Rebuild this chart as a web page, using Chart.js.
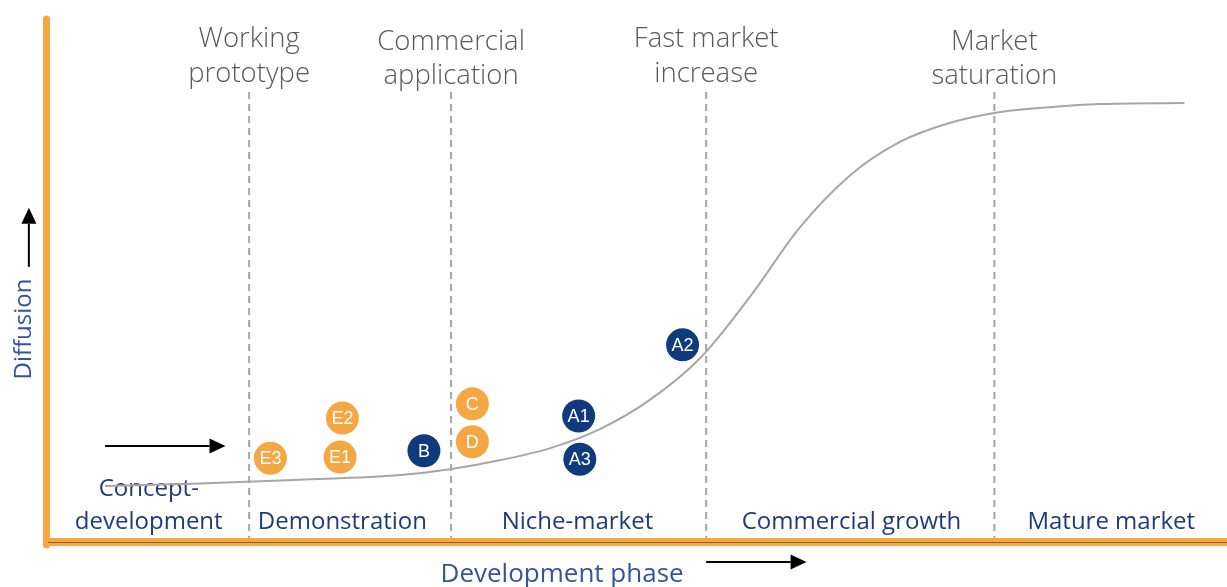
<!DOCTYPE html>
<html>
<head>
<meta charset="utf-8">
<script src="https://cdn.jsdelivr.net/npm/chart.js@4.4.0/dist/chart.umd.min.js"></script>
<style>
  html, body { margin: 0; padding: 0; background: #fff; }
  #wrap { width: 1227px; height: 587px; }
</style>
</head>
<body>
<div id="wrap"><canvas id="chart" width="1227" height="587"></canvas></div>
<script>
// S-curve: x = development phase (0-100), y = diffusion (0-100)
const curveX = [5.0, 13.0, 21.5, 30.0, 34.2, 38.4, 42.7, 46.9, 51.1, 55.4, 59.6, 63.8, 68.1, 72.3, 76.5, 80.8, 85.0, 89.2, 96.4];
const curveY = [10.8, 11.3, 12.0, 12.9, 14.0, 15.7, 18.0, 21.6, 27.1, 35.1, 46.7, 59.8, 69.8, 76.1, 79.7, 81.8, 82.7, 83.3, 83.5];

// milestones (dashed boundaries)
const milestoneX = [17.2, 34.3, 55.9, 80.3];
const milestoneTop = 86.3;
const milestoneNames = [['Working', 'prototype'], ['Commercial', 'application'], ['Fast market', 'increase'], ['Market', 'saturation']];

// phases
const phaseNames = [['Concept-', 'development'], ['Demonstration'], ['Niche-market'], ['Commercial growth'], ['Mature market']];
const phaseCenterX = [8.7, 25.1, 45.0, 68.2, 90.2];

// technologies
const orangeIds = ['E3', 'E1', 'E2', 'C', 'D'];
const orangeX = [19.0, 24.9, 25.1, 36.1, 36.1];
const orangeY = [16.1, 16.3, 23.7, 26.4, 19.2];

const navyIds = ['B', 'A1', 'A3', 'A2'];
const navyX = [32.0, 45.1, 45.2, 53.9];
const navyY = [17.5, 24.1, 15.9, 37.6];

const ORANGE = '#F4A742';
const NAVY = '#0F3B7D';
const PHASE_BLUE = '#1F3C78';
const GREY = '#A6A6A6';

// arrows in axis units: [x1, y1, x2, y2]
const arrows = [
    [5.0, 18.4, 15.2, 18.4],
    [-1.45, 52.4, -1.45, 63.6],
    [55.9, -3.6, 64.4, -3.6]
];

const toPts = (xs, ys) => xs.map((x, i) => ({ x: x, y: ys[i] }));

const datasets = [
    {
        label: 'orange', type: 'scatter', data: toPts(orangeX, orangeY),
        backgroundColor: ORANGE, borderWidth: 0, pointRadius: 16.5, pointHoverRadius: 16.5
    },
    {
        label: 'navy', type: 'scatter', data: toPts(navyX, navyY),
        backgroundColor: NAVY, borderWidth: 0, pointRadius: 16.5, pointHoverRadius: 16.5
    },
    {
        label: 'curve', type: 'line', data: toPts(curveX, curveY),
        borderColor: GREY, borderWidth: 2, pointRadius: 0, fill: false,
        cubicInterpolationMode: 'monotone'
    }
];
milestoneX.forEach((x, i) => {
    datasets.push({
        label: 'm' + i, type: 'line', data: [{ x: x, y: 0 }, { x: x, y: milestoneTop }],
        borderColor: GREY, borderWidth: 2, borderDash: [7, 5], pointRadius: 0, fill: false
    });
});

function drawArrow(ctx, x1, y1, x2, y2) {
    const ang = Math.atan2(y2 - y1, x2 - x1);
    const len = 16, hw = 7.5;
    ctx.save();
    ctx.strokeStyle = '#000';
    ctx.fillStyle = '#000';
    ctx.lineWidth = 2;
    ctx.beginPath();
    ctx.moveTo(x1, y1);
    ctx.lineTo(x2 - Math.cos(ang) * len, y2 - Math.sin(ang) * len);
    ctx.stroke();
    ctx.translate(x2, y2);
    ctx.rotate(ang);
    ctx.beginPath();
    ctx.moveTo(0, 0);
    ctx.lineTo(-len, -hw);
    ctx.lineTo(-len, hw);
    ctx.closePath();
    ctx.fill();
    ctx.restore();
}

const overlay = {
    id: 'overlay',
    beforeDatasetsDraw(chart) {
        const ctx = chart.ctx;
        const xs = chart.scales.x, ys = chart.scales.y;
        ctx.save();
        ctx.textAlign = 'center';
        ctx.textBaseline = 'alphabetic';

        // milestone titles
        ctx.fillStyle = '#595959';
        ctx.font = '300 27.5px "Open Sans"';
        milestoneNames.forEach((lines, i) => {
            const px = xs.getPixelForValue(milestoneX[i]);
            const top = (i % 2 === 0) ? 94.1 : 93.6;
            lines.forEach((t, j) => {
                ctx.fillText(t, px, ys.getPixelForValue(top) + j * 34.5);
            });
        });

        // phase names
        ctx.fillStyle = PHASE_BLUE;
        ctx.font = '24px "Open Sans"';
        phaseNames.forEach((lines, i) => {
            const px = xs.getPixelForValue(phaseCenterX[i]);
            const base = ys.getPixelForValue(2.6);
            lines.forEach((t, j) => {
                ctx.fillText(t, px, base - (lines.length - 1 - j) * 33.5);
            });
        });

        // axis titles
        ctx.fillStyle = '#34559A';
        ctx.font = '26px "Open Sans"';
        ctx.fillText('Development phase', xs.getPixelForValue(43.7), ys.getPixelForValue(-7.4));

        ctx.save();
        ctx.translate(xs.getPixelForValue(-1.25), ys.getPixelForValue(40.6));
        ctx.rotate(-Math.PI / 2);
        ctx.font = '24px "Open Sans"';
        ctx.fillText('Diffusion', 0, 0);
        ctx.restore();
        ctx.restore();
    },
    afterDatasetsDraw(chart) {
        const ctx = chart.ctx;
        const xs = chart.scales.x, ys = chart.scales.y;
        const area = chart.chartArea;

        // labels inside circles
        ctx.save();
        ctx.fillStyle = '#fff';
        ctx.font = '18px "Liberation Sans", Arial, sans-serif';
        ctx.textAlign = 'center';
        ctx.textBaseline = 'middle';
        [[0, orangeIds], [1, navyIds]].forEach(([di, ids]) => {
            chart.getDatasetMeta(di).data.forEach((el, i) => {
                ctx.fillText(ids[i], el.x, el.y + 1);
            });
        });
        ctx.restore();

        // orange axes
        ctx.save();
        ctx.strokeStyle = ORANGE;
        ctx.lineCap = 'round';
        ctx.lineWidth = 7;
        ctx.beginPath();
        ctx.moveTo(area.left + 0.5, area.top + 3);
        ctx.lineTo(area.left + 0.5, area.bottom + 2);
        ctx.stroke();
        ctx.lineCap = 'butt';
        ctx.lineWidth = 8;
        ctx.beginPath();
        ctx.moveTo(area.left - 3, area.bottom - 1);
        ctx.lineTo(chart.width, area.bottom - 1);
        ctx.stroke();
        ctx.strokeStyle = 'rgba(110, 80, 30, 0.75)';
        ctx.lineWidth = 1;
        ctx.beginPath();
        ctx.moveTo(area.left + 2, area.bottom - 0.5);
        ctx.lineTo(chart.width, area.bottom - 0.5);
        ctx.stroke();
        ctx.restore();

        // arrows
        arrows.forEach(a => {
            drawArrow(ctx, xs.getPixelForValue(a[0]), ys.getPixelForValue(a[1]),
                xs.getPixelForValue(a[2]), ys.getPixelForValue(a[3]));
        });
    }
};

new Chart(document.getElementById('chart'), {
    type: 'scatter',
    data: { datasets: datasets },
    options: {
        responsive: false,
        animation: false,
        events: [],
        layout: { autoPadding: false, padding: { left: 46, right: 0, top: 16, bottom: 44 } },
        scales: {
            x: { type: 'linear', min: 0, max: 100, display: false },
            y: { type: 'linear', min: 0, max: 100, display: false }
        },
        plugins: { legend: { display: false }, tooltip: { enabled: false } }
    },
    plugins: [overlay]
});
</script>
</body>
</html>
